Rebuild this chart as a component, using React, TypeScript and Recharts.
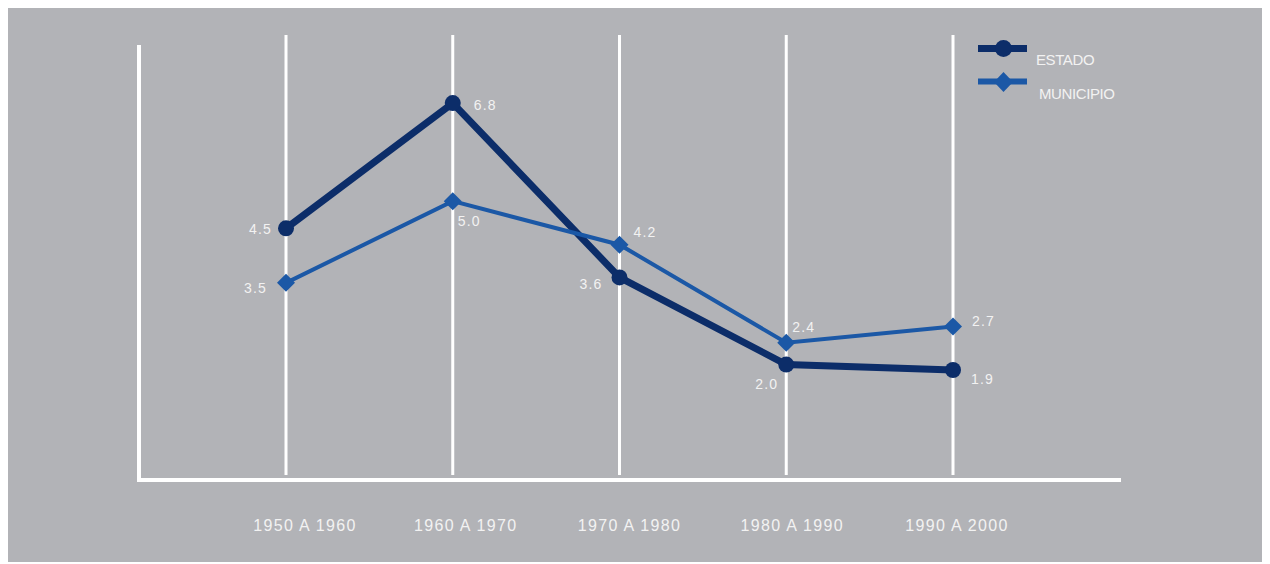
import { LineChart, Line, XAxis, YAxis, ReferenceLine, LabelList } from 'recharts';

// ─── Data ────────────────────────────────────────────────────────────────────

const PERIODS = ['1950 A 1960', '1960 A 1970', '1970 A 1980', '1980 A 1990', '1990 A 2000'];
const ESTADO = [4.5, 6.8, 3.6, 2.0, 1.9];
const MUNICIPIO = [3.5, 5.0, 4.2, 2.4, 2.7];

// ─── Label placement (per point, relative to the marker / tick) ──────────────

const ESTADO_LABEL_POS: Array<[number, number, 'start' | 'end']> = [
    [-14, 6, 'end'],
    [21, 7, 'start'],
    [-17, 12, 'end'],
    [-8, 24, 'end'],
    [18, 14, 'start'],
];
const MUNICIPIO_LABEL_POS: Array<[number, number, 'start' | 'end']> = [
    [-19, 10, 'end'],
    [5, 25, 'start'],
    [14, -8, 'start'],
    [6, -11, 'start'],
    [19, 0, 'start'],
];
const TICK_DX = [19, 13, 10, 6, 4];

const BG = '#b2b3b7';
const ESTADO_COLOR = '#0c2d69';
const MUNICIPIO_COLOR = '#1b58a6';
const TEXT_COLOR = '#f2f2f2';
const FONT = '"Liberation Sans", Arial, sans-serif';

const data = PERIODS.map((period, i) => ({
    period,
    estado: ESTADO[i],
    municipio: MUNICIPIO[i],
}));

// ─── Helpers ─────────────────────────────────────────────────────────────────

function makeLabel(pos: Array<[number, number, 'start' | 'end']>) {
    return (props: any) => {
        const { x, y, value, index } = props;
        const [dx, dy, anchor] = pos[index] ?? [10, 0, 'start'];
        return (
            <text
                x={Number(x) + dx}
                y={Number(y) + dy}
                textAnchor={anchor}
                fill={TEXT_COLOR}
                fontSize={14}
                fontFamily={FONT}
                letterSpacing={1.2}
            >
                {Number(value).toFixed(1)}
            </text>
        );
    };
}

function PeriodTick(props: any) {
    const { x, y, payload, index } = props;
    return (
        <text
            x={Number(x) + (TICK_DX[index] ?? 0)}
            y={Number(y)}
            dy="0.71em"
            textAnchor="middle"
            fill={TEXT_COLOR}
            fontSize={16}
            fontFamily={FONT}
            letterSpacing={1.3}
        >
            {payload.value}
        </text>
    );
}

function DiamondDot(props: any) {
    const { cx, cy } = props;
    if (cx == null || cy == null) return null;
    const r = 9;
    return (
        <polygon
            points={`${cx},${cy - r} ${cx + r},${cy} ${cx},${cy + r} ${cx - r},${cy}`}
            fill={MUNICIPIO_COLOR}
        />
    );
}

function LegendBox() {
    return (
        <svg width={160} height={72} style={{ display: 'block' }}>
            <line x1={8} x2={57} y1={13.5} y2={13.5} stroke={ESTADO_COLOR} strokeWidth={7} />
            <circle cx={33.5} cy={13.5} r={8.5} fill={ESTADO_COLOR} />
            <text x={66} y={30} fill={TEXT_COLOR} fontSize={15} fontFamily={FONT} letterSpacing={-0.4}>
                ESTADO
            </text>
            <line x1={8} x2={57} y1={46.5} y2={46.5} stroke={MUNICIPIO_COLOR} strokeWidth={6} />
            <polygon points="33.5,37 43,47 33.5,57 24,47" fill={MUNICIPIO_COLOR} />
            <text x={69} y={64} fill={TEXT_COLOR} fontSize={15} fontFamily={FONT} letterSpacing={-0.4}>
                MUNICIPIO
            </text>
        </svg>
    );
}

// ─── Component ───────────────────────────────────────────────────────────────

export default function App() {
    return (
        <div style={{ width: 1255, height: 555, background: BG, margin: '-1px 0 0 -1px', position: 'relative' }}>
            <LineChart
                width={1255}
                height={555}
                data={data}
                margin={{ top: 40, right: 143, bottom: 32, left: 131 }}
            >
                {PERIODS.map((p) => (
                    <ReferenceLine
                        key={p}
                        segment={[{ x: p, y: 8.05 }, { x: p, y: -0.03 }]}
                        stroke="#ffffff"
                        strokeWidth={3}
                        ifOverflow="visible"
                    />
                ))}
                <XAxis
                    dataKey="period"
                    type="category"
                    scale="point"
                    padding={{ left: 147, right: 166 }}
                    height={50}
                    tickLine={false}
                    tickMargin={34}
                    axisLine={{ stroke: '#ffffff', strokeWidth: 4, strokeLinecap: 'square' }}
                    tick={<PeriodTick />}
                />
                <YAxis
                    type="number"
                    domain={[-0.12, 7.83]}
                    allowDataOverflow
                    width={1}
                    tick={false}
                    tickLine={false}
                    axisLine={{ stroke: '#ffffff', strokeWidth: 4, strokeLinecap: 'square' }}
                />
                <Line
                    type="linear"
                    dataKey="estado"
                    name="ESTADO"
                    stroke={ESTADO_COLOR}
                    strokeWidth={7}
                    dot={{ r: 8, fill: ESTADO_COLOR, stroke: 'none' }}
                    activeDot={false}
                    isAnimationActive={false}
                >
                    <LabelList dataKey="estado" content={makeLabel(ESTADO_LABEL_POS)} />
                </Line>
                <Line
                    type="linear"
                    dataKey="municipio"
                    name="MUNICIPIO"
                    stroke={MUNICIPIO_COLOR}
                    strokeWidth={4}
                    dot={<DiamondDot />}
                    activeDot={false}
                    isAnimationActive={false}
                >
                    <LabelList dataKey="municipio" content={makeLabel(MUNICIPIO_LABEL_POS)} />
                </Line>
            </LineChart>
            <div style={{ position: 'absolute', top: 28, left: 963 }}>
                <LegendBox />
            </div>
        </div>
    );
}
